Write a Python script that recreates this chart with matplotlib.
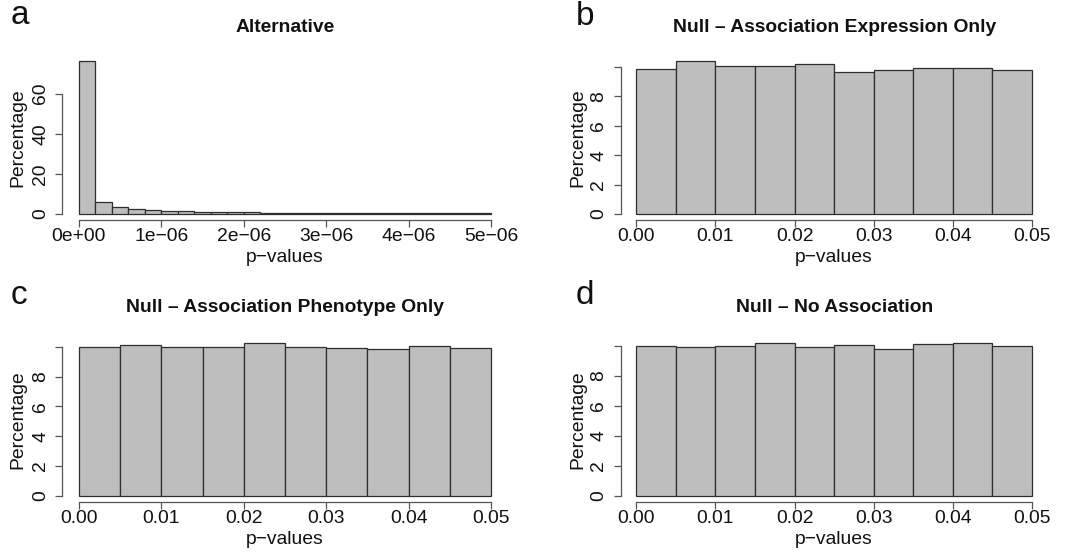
import numpy as np
import matplotlib
matplotlib.use("Agg")
import matplotlib.pyplot as plt

plt.rcParams["font.family"] = ["Liberation Sans", "DejaVu Sans"]

# ---- data: percentage of p-values per histogram bin ----
alt_pct = [76.2, 5.9, 3.3, 2.4, 1.9, 1.6, 1.3, 1.1, 0.9, 0.8,
           0.7, 0.6, 0.55, 0.5, 0.45, 0.4, 0.38, 0.35, 0.33, 0.3,
           0.28, 0.26, 0.25, 0.24, 0.22]
expr_only_pct = [9.86, 10.41, 10.07, 10.11, 10.20, 9.68, 9.79, 9.93, 9.93, 9.82]
pheno_only_pct = [10.02, 10.09, 10.02, 9.98, 10.25, 9.96, 9.93, 9.84, 10.07, 9.91]
no_assoc_pct = [10.00, 9.93, 10.00, 10.18, 9.96, 10.07, 9.82, 10.13, 10.20, 10.00]

alt_range = (0.0, 5e-6)
null_range = (0.0, 0.05)

alt_xticks = [0, 1e-6, 2e-6, 3e-6, 4e-6, 5e-6]
alt_xticklabels = ["0e+00", "1e\u221206", "2e\u221206", "3e\u221206", "4e\u221206", "5e\u221206"]
null_xticks = [0.0, 0.01, 0.02, 0.03, 0.04, 0.05]
null_xticklabels = ["0.00", "0.01", "0.02", "0.03", "0.04", "0.05"]
alt_yticks = [0, 20, 40, 60]
alt_yticklabels = ["0", "20", "40", "60"]
null_yticks = [0, 2, 4, 6, 8, 10]
null_yticklabels = ["0", "2", "4", "6", "8", ""]

titles = ["Alternative",
          "Null \u2013 Association Expression Only",
          "Null \u2013 Association Phenotype Only",
          "Null \u2013 No Association"]
letters = ["a", "b", "c", "d"]

# ---- layout ----
W, H = 1074, 554
fig = plt.figure(figsize=(W / 100, H / 100), dpi=100)
fig.patch.set_facecolor("white")

FS = 13.9
TEXT = "#111111"
BAR_FILL = "#BEBEBE"
BAR_EDGE = "#2e2e2e"
AXIS_COL = "#555555"


def rect(l, r, t, b):
    return [l / W, 1 - b / H, (r - l) / W, (b - t) / H]


boxes = [rect(62.3, 507.7, 55, 220), rect(620.5, 1047.8, 55, 220),
         rect(62.3, 507.7, 337, 502), rect(620.5, 1047.8, 337, 502)]
letter_pos = [(11, 24), (576, 25), (11, 304), (576, 304)]
title_y = [28, 27, 308, 308]
axis_bottom = [220, 220, 502, 502]

panels = [
    (alt_pct, alt_range, alt_xticks, alt_xticklabels, alt_yticks, alt_yticklabels),
    (expr_only_pct, null_range, null_xticks, null_xticklabels, null_yticks, null_yticklabels),
    (pheno_only_pct, null_range, null_xticks, null_xticklabels, null_yticks, null_yticklabels),
    (no_assoc_pct, null_range, null_xticks, null_xticklabels, null_yticks, null_yticklabels),
]

for i, (vals, xr, xt, xtl, yt, ytl) in enumerate(panels):
    ax = fig.add_axes(boxes[i])
    vals = np.asarray(vals)
    edges = np.linspace(xr[0], xr[1], len(vals) + 1)
    ax.bar(edges[:-1], vals, width=np.diff(edges), align="edge",
           color=BAR_FILL, edgecolor=BAR_EDGE, linewidth=0.9)

    # R-style 4% padding around the data range
    span_x = xr[1] - xr[0]
    ymax = vals.max()
    ax.set_xlim(xr[0] - 0.04 * span_x, xr[1] + 0.04 * span_x)
    ax.set_ylim(-0.04 * ymax, 1.04 * ymax)

    for s in ("top", "right"):
        ax.spines[s].set_visible(False)
    ax.spines["left"].set_bounds(yt[0], yt[-1])
    ax.spines["bottom"].set_bounds(xt[0], xt[-1])
    for s in ("left", "bottom"):
        ax.spines[s].set_color(AXIS_COL)
        ax.spines[s].set_linewidth(0.9)

    ax.set_xticks(xt, xtl)
    ax.set_yticks(yt, ytl, rotation=90, va="center")
    ax.tick_params(axis="both", direction="out", length=5, width=0.9,
                   color=AXIS_COL, labelsize=FS, labelcolor=TEXT)
    ax.tick_params(axis="x", pad=1.0)
    ax.tick_params(axis="y", pad=4.5)

    ax.set_xlabel("p\u2212values", fontsize=FS, color=TEXT, va="center")
    ax.xaxis.set_label_coords(0.5, -(258 - 220) / 165)
    ax.set_ylabel("Percentage", fontsize=FS, color=TEXT, va="center")
    ax.yaxis.set_label_coords(-0.0995, 0.5)

    top_px = axis_bottom[i] - 165
    ax.set_title(titles[i], fontsize=FS, fontweight="bold", color=TEXT,
                 y=1 + (top_px - title_y[i]) / 165, va="center", pad=0)

    lx, ly = letter_pos[i]
    fig.text(lx / W, 1 - ly / H, letters[i], fontsize=24, color=TEXT,
             ha="left", va="baseline")

fig.savefig("out.png", dpi=100, facecolor="white")
